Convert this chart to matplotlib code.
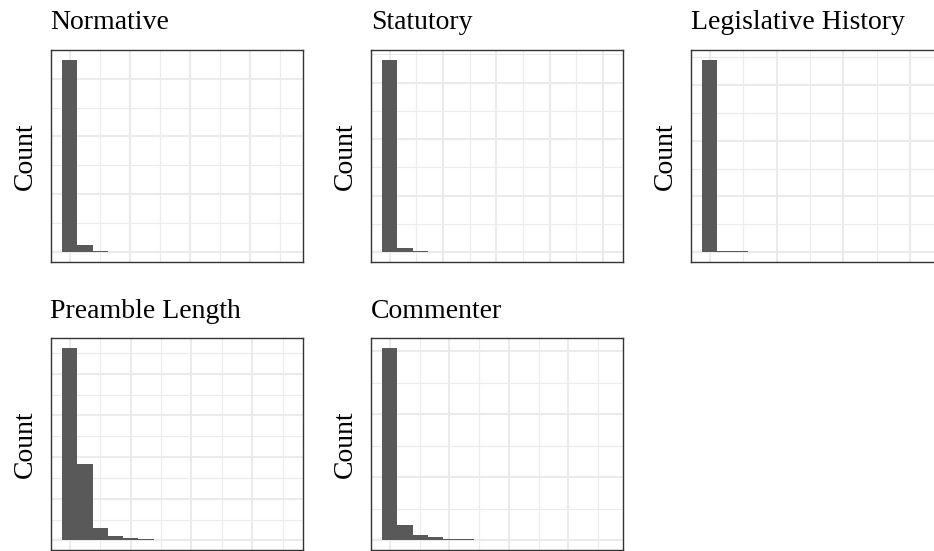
import matplotlib
matplotlib.use("Agg")
import matplotlib.pyplot as plt
import numpy as np

plt.rcParams["font.family"] = ["Liberation Serif", "DejaVu Serif"]

# panel titles
categories = ["Normative", "Statutory", "Legislative History",
              "Preamble Length", "Commenter"]

# histogram counts per bin (bin 0 = lowest values)
normative_counts = [3330, 115, 15]
statutory_counts = [3405, 71, 15]
legislative_counts = [3460, 27, 12]
preamble_counts = [2311, 912, 152, 56, 28, 16, 8, 5]
commenter_counts = [3049, 238, 90, 48, 27, 16, 8]

all_counts = [normative_counts, statutory_counts, legislative_counts,
              preamble_counts, commenter_counts]

# grid spacing (x in bins, y in counts) per panel
x_major = [3.93, 3.49, 4.37, 3.99, 3.90]
y_major = [1000, 1000, 1000, 500, 1000]

n_bins = 15
W, H = 934, 551
col_left = [50.5, 370.7, 690.7]
row_top = [50, 338.3]
pw, ph = 252, 211.7

fig = plt.figure(figsize=(W / 100, H / 100), dpi=100)

for k, (title, counts) in enumerate(zip(categories, all_counts)):
    r, c = divmod(k, 3)
    left = col_left[c]
    top = row_top[r]
    ax = fig.add_axes([left / W, 1 - (top + ph) / H, pw / W, ph / H])

    xmin, xmax = -0.5 - 0.05 * n_bins, n_bins - 0.5 + 0.05 * n_bins
    m = max(counts)
    ymin, ymax = -0.05 * m, 1.05 * m

    # grid lines
    step = x_major[k]
    xs = np.arange(0, xmax, step / 2)
    for i, xv in enumerate(xs):
        ax.axvline(xv, color="#EBEBEB", lw=1.5 if i % 2 == 0 else 0.8, zorder=0)
    ys = np.arange(0, ymax, y_major[k] / 2)
    for i, yv in enumerate(ys):
        ax.axhline(yv, color="#EBEBEB", lw=1.5 if i % 2 == 0 else 0.8, zorder=0)

    ax.bar(np.arange(len(counts)), counts, width=1.0, color="#595959",
           linewidth=0, zorder=2)

    ax.set_xlim(xmin, xmax)
    ax.set_ylim(ymin, ymax)
    ax.set_xticks([])
    ax.set_yticks([])
    for sp in ax.spines.values():
        sp.set_color("#333333")
        sp.set_linewidth(1.0)

    ax.set_title(title, loc="left", fontsize=20, pad=14.9)
    ax.set_ylabel("Count", fontsize=20, labelpad=9)

plt.savefig("out.png", dpi=100)
